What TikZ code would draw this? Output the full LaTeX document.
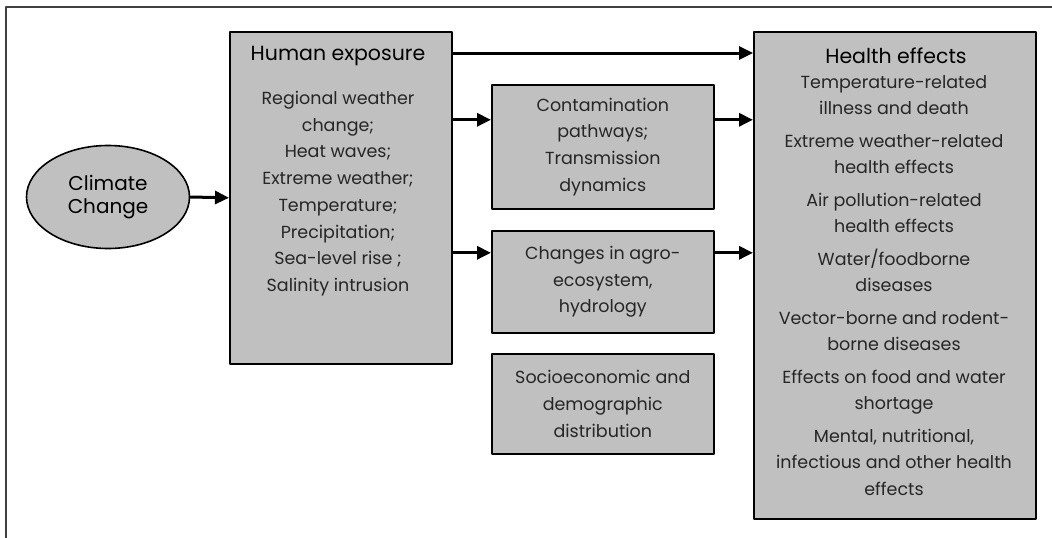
\documentclass[tikz,border=0pt]{standalone}
\usepackage{fontspec}
\setmainfont{Poppins}
\usetikzlibrary{arrows.meta,shapes.geometric}
\definecolor{boxgray}{RGB}{192,192,192}

\begin{document}
\begin{tikzpicture}[line cap=round,line join=round,>={Triangle[length=14pt,width=13pt]},x=1pt,y=-1pt]
    \tikzset{box/.style={draw=black,line width=1.6pt,fill=boxgray,rectangle,inner sep=0pt,anchor=north west},
      txt/.style={align=center,inner sep=0pt,font=\fontsize{17.5}{26.7}\selectfont,text=black!85},
      head/.style={inner sep=0pt,font=\fontsize{20.5}{24}\selectfont,text=black},
      flow/.style={->,line width=3pt,color=black}}
    \useasboundingbox (0,0) rectangle (1052,538);
    \draw[line width=1.2pt,color=black!75] (6,538) -- (6,7) -- (1052,7);
    % boxes
    \node[ellipse,draw=black,line width=1.6pt,fill=boxgray,minimum width=163pt,minimum height=103pt,
      align=center,font=\fontsize{20}{23}\selectfont] (climate) at (108,197) {Climate\\Change};
    \node[box,minimum width=222pt,minimum height=332pt] (expo) at (229,31) {};
    \node[box,txt,anchor=north west,minimum width=222pt,minimum height=124pt] (cont) at (491,84)
      {Contamination\\pathways;\\Transmission\\dynamics};
    \node[box,txt,anchor=north west,minimum width=222pt,minimum height=102pt] (agro) at (491,230)
      {Changes in agro-\\ecosystem,\\hydrology};
    \node[box,txt,anchor=north west,minimum width=222pt,minimum height=100pt] (socio) at (491,353)
      {Socioeconomic and\\demographic\\distribution};
    \node[box,minimum width=282pt,minimum height=487pt] (health) at (753,31) {};
    % texts in the two tall boxes
    \node[head] (expohead) at (338,56) {Human exposure};
    \node[txt,anchor=north] (expolist) at (338,91) {Regional weather\\change;\\Heat waves;\\Extreme weather;\\
      Temperature;\\Precipitation;\\Sea-level rise ;\\Salinity intrusion};
    \node[head] (healthhead) at (896,56) {Health effects};
    \node[txt,anchor=north] (healthlist) at (894,75) {Temperature-related\\illness and death\\[5.6pt]
      Extreme weather-related\\health effects\\[5.6pt]Air pollution-related\\health effects\\[5.6pt]
      Water/foodborne\\diseases\\[5.6pt]Vector-borne and rodent-\\borne diseases\\[5.6pt]
      Effects on food and water\\shortage\\[5.6pt]Mental, nutritional,\\infectious and other health\\effects};
    % arrows
    \coordinate (toprow) at (340,53);
    \draw[flow] (climate.east) -- (expo.west);
    \draw[flow] (expo.east |- toprow) -- (health.west |- toprow);
    \foreach \b/\s in {cont/27,agro/29} {
        \coordinate (\b in) at ([yshift=\s pt]\b.west);
        \coordinate (\b out) at ([yshift=\s pt]\b.east);
        \draw[flow] (expo.east |- \b in) -- (\b in);
        \draw[flow] (\b out) -- (health.west |- \b out);
    }
\end{tikzpicture}
\end{document}
